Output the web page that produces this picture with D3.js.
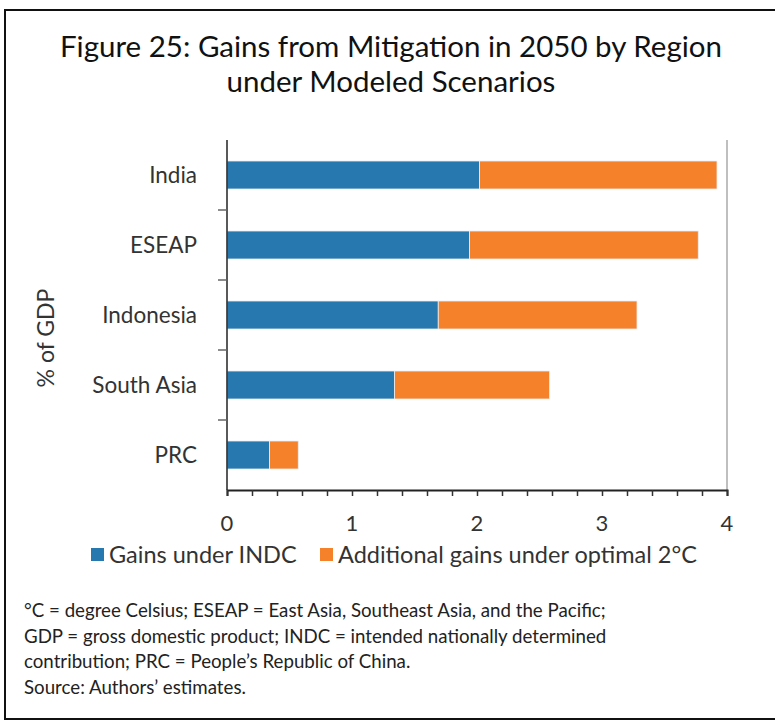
<!DOCTYPE html>
<html><head><meta charset="utf-8">
<script src="https://cdn.jsdelivr.net/npm/d3@7"></script>
<style>body{margin:0;background:#fff;} svg{display:block;font-family:Lato,"Open Sans",sans-serif;}</style>
</head><body>
<svg id="c" width="775" height="721"></svg>
<script>
const categories = ["India","ESEAP","Indonesia","South Asia","PRC"];
const gainsINDC = [2.02,1.94,1.69,1.34,0.34];
const additional = [1.90,1.83,1.59,1.24,0.23];
const seriesNames = ["Gains under INDC","Additional gains under optimal 2°C"];
const xTicks = [0,1,2,3,4];
const colors = ["#2878b0","#f5812a"];
const notes = ["°C = degree Celsius; ESEAP = East Asia, Southeast Asia, and the Pacific;",
 "GDP = gross domestic product; INDC = intended nationally determined",
 "contribution; PRC = People’s Republic of China.",
 "Source: Authors’ estimates."];

const svg = d3.select("#c");
svg.append("rect").attr("x",5).attr("y",10).attr("width",800).attr("height",709)
  .attr("fill","none").attr("stroke","#111").attr("stroke-width",2);

const title = svg.append("text").attr("text-anchor","middle").attr("fill","#111")
  .style("font-size","29.5px");
title.append("tspan").attr("x",391).attr("y",57).text("Figure 25: Gains from Mitigation in 2050 by Region");
title.append("tspan").attr("x",391).attr("y",92).text("under Modeled Scenarios");

const L=227,R=727,T=140,B=490;
const x = d3.scaleLinear().domain([0,4]).range([L,R]);
const y = d3.scaleBand().domain(categories).range([T,B]).paddingInner(0.6).paddingOuter(0.3);

const data = categories.map((c,i)=>({cat:c,a:gainsINDC[i],b:additional[i]}));
const stack = d3.stack().keys(["a","b"])(data);
svg.append("g").selectAll("g").data(stack).join("g").attr("fill",(d,i)=>colors[i])
 .selectAll("rect").data(d=>d).join("rect")
 .attr("x",d=>x(d[0])).attr("width",d=>x(d[1])-x(d[0]))
 .attr("y",d=>y(d.data.cat)).attr("height",y.bandwidth())
 .attr("stroke","#e8eef5").attr("stroke-width",0.8);

// right border
svg.append("line").attr("x1",R).attr("x2",R).attr("y1",T).attr("y2",B).attr("stroke","#aaa").attr("stroke-width",1.5);

// y axis
svg.append("line").attr("x1",L).attr("x2",L).attr("y1",T).attr("y2",B).attr("stroke","#222").attr("stroke-width",1.5);
const bounds = categories.slice(1).map(c=>y(c)-y.step()*y.paddingInner()/2);
svg.append("g").selectAll("line").data(bounds).join("line")
 .attr("x1",L-9).attr("x2",L).attr("y1",d=>d).attr("y2",d=>d).attr("stroke","#666").attr("stroke-width",1.5);
svg.append("g").selectAll("text").data(categories).join("text")
 .attr("x",197).attr("y",d=>y(d)+y.bandwidth()/2).attr("dy","0.35em").attr("text-anchor","end")
 .attr("fill","#333").style("font-size","22.5px").text(d=>d);
svg.append("text").attr("transform","translate(54,338) rotate(-90)").attr("text-anchor","middle")
 .attr("fill","#333").style("font-size","23px").text("% of GDP");

// x axis
const xAxis = d3.axisBottom(x).tickValues(d3.range(0,4.0001,0.2)).tickSize(6).tickFormat("");
const gx = svg.append("g").attr("transform",`translate(0,${B})`).call(xAxis);
gx.select(".domain").attr("stroke","#222").attr("stroke-width",2);
gx.selectAll(".tick line").attr("stroke","#333").attr("stroke-width",1.5);
svg.append("g").selectAll("text").data(xTicks).join("text")
 .attr("x",d=>x(d)).attr("y",531).attr("text-anchor","middle").attr("fill","#333")
 .style("font-size","22px").text(d=>d);

// legend
const leg = [{x:91,t:seriesNames[0],c:colors[0]},{x:320,t:seriesNames[1],c:colors[1]}];
leg.forEach(l=>{
  svg.append("rect").attr("x",l.x).attr("y",548).attr("width",13).attr("height",13).attr("fill",l.c);
  svg.append("text").attr("x",l.x+18).attr("y",563).attr("fill","#333").style("font-size","23.5px").text(l.t);
});

// notes
svg.append("g").selectAll("text").data(notes).join("text")
 .attr("x",24).attr("y",(d,i)=>617+i*25.7).attr("fill","#222").style("font-size","18.7px").text(d=>d);
</script>
</body></html>
